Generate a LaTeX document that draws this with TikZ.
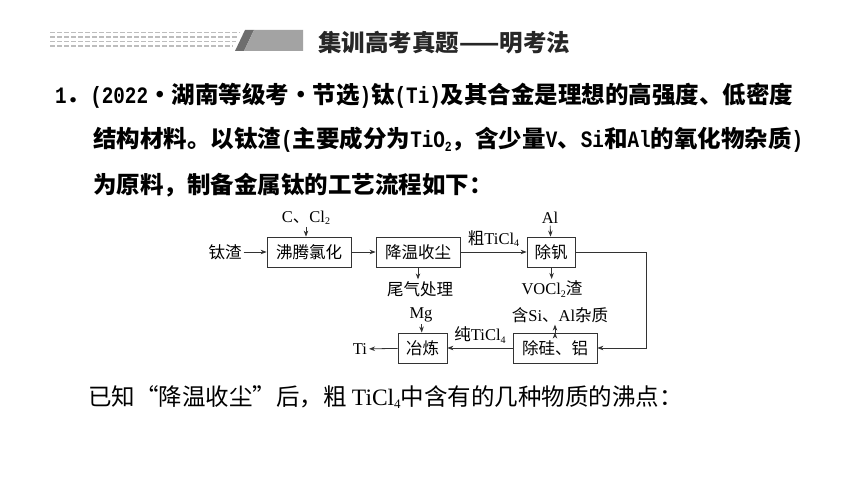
\documentclass[tikz,border=0pt]{standalone}
\usepackage{fontspec}
\setmainfont{Noto Sans CJK SC}
\newfontfamily\latmono{Liberation Mono}
\newfontfamily\latserif{Liberation Serif}
\usepackage{tikz}
\usetikzlibrary{arrows.meta, positioning}
\definecolor{dashgray}{HTML}{BDBDBD}
\definecolor{bardark}{HTML}{6E6E6E}
\definecolor{barlight}{HTML}{A3A3A3}
\definecolor{ink}{HTML}{262626}
\newcommand\half[1]{\scalebox{0.82}[1]{\latmono\fontsize{23.5}{24}\selectfont #1}}
\newcommand\lsub[2][10]{\raisebox{-0.3ex}{\fontsize{#1}{#1}\selectfont #2}}
\newcommand\chem[1]{{\latserif #1}}

\begin{document}
\begin{tikzpicture}[x=1pt,y=-1pt,
  box/.style={draw=black!80, line width=0.8pt, minimum width=#1, minimum height=30pt,
    inner sep=0pt, font=\fontsize{16.5}{18}\selectfont},
  lbl/.style={inner sep=0pt, outer sep=2pt, font=\fontsize{16.5}{18}\selectfont},
  flow/.style={draw=black!80, line width=0.8pt, -{Stealth[length=6pt,width=4.5pt]}},
  body/.style={inner sep=0pt, anchor=west, font=\fontsize{23.5}{26}\selectfont\bfseries},
  plain/.style={inner sep=0pt, anchor=west, font=\fontsize{23.5}{26}\selectfont}]
  \useasboundingbox[fill=white] (0,0) rectangle (860,484);

  % header bar
  \foreach \yy in {32.5,37,41.5,46}
    \draw[dashgray, line width=1.6pt, dash pattern=on 5pt off 2pt]
      (50,\yy) -- ({241-(\yy-30)*0.476},\yy);
  \fill[bardark] (245,30) -- (254,30) -- (244,51) -- (235,51) -- cycle;
  \fill[barlight] (254,30) -- (303,30) -- (303,51) -- (244,51) -- cycle;
  \node[body, text=ink] (title) at (318,43) {集训高考真题——明考法};

  % question text
  \node[body] (line1) at (55,96) {\half{1}．\half{(2022}・湖南等级考・节选\half{)}钛\half{(Ti)}及其合金是理想的高强度、低密度};
  \node[body] (line2) at (93,140) {结构材料。以钛渣\half{(}主要成分为\half{TiO\lsub[14]{2}}，含少量\half{V}、\half{Si}和\half{Al}的氧化物杂质\half{)}};
  \node[body] (line3) at (93,185) {为原料，制备金属钛的工艺流程如下：};

  % flow chart
  \node[box=84pt] (boil)   at (309,252)   {沸腾氯化};
  \node[box=84pt] (cool)   at (418,252)   {降温收尘};
  \node[box=48pt] (devan)  at (551,252)   {除钒};
  \node[box=84pt] (desial) at (555,348)   {除硅、铝};
  \node[box=49pt] (smelt)  at (422.5,348) {冶炼};

  \node[lbl] (slag)  at (225,252) {钛渣};
  \node[lbl] (ccl)   at (306,218) {\chem{C}、\chem{Cl\lsub{2}}};
  \node[lbl] (al)    at (550,218) {\chem{Al}};
  \node[lbl] (tail)  at (420,289) {尾气处理};
  \node[lbl] (vocl)  at (552,289) {\chem{VOCl\lsub{2}}渣};
  \node[lbl] (impur) at (560,315) {含\chem{Si}、\chem{Al}杂质};
  \node[lbl] (mg)    at (421,315) {\chem{Mg}};
  \node[lbl] (ti)    at (360,349) {\chem{Ti}};
  \coordinate (turn) at (646,252);

  \path[flow]
  (slag)         edge (boil)
  (boil)         edge (cool)
  (cool)         edge node[lbl, above=3pt] {粗\chem{TiCl\lsub{4}}} (devan)
  (ccl.south)    edge (ccl.south |- boil.north)
  (al)           edge (devan)
  (cool.south)   edge (cool.south |- tail.north)
  (devan)        edge (vocl)
  (desial.north) edge (desial.north |- impur.south)
  (desial)       edge node[lbl, above=3pt] {纯\chem{TiCl\lsub{4}}} (smelt)
  (mg)           edge (smelt)
  (smelt)        edge (ti)
  ;
  \draw[flow] (devan.east) -- (turn) |- (desial.east);

  \node[plain] (known) at (88,397) {已知“降温收尘”后，粗 \chem{TiCl\lsub[13]{4}}中含有的几种物质的沸点：};
\end{tikzpicture}
\end{document}
